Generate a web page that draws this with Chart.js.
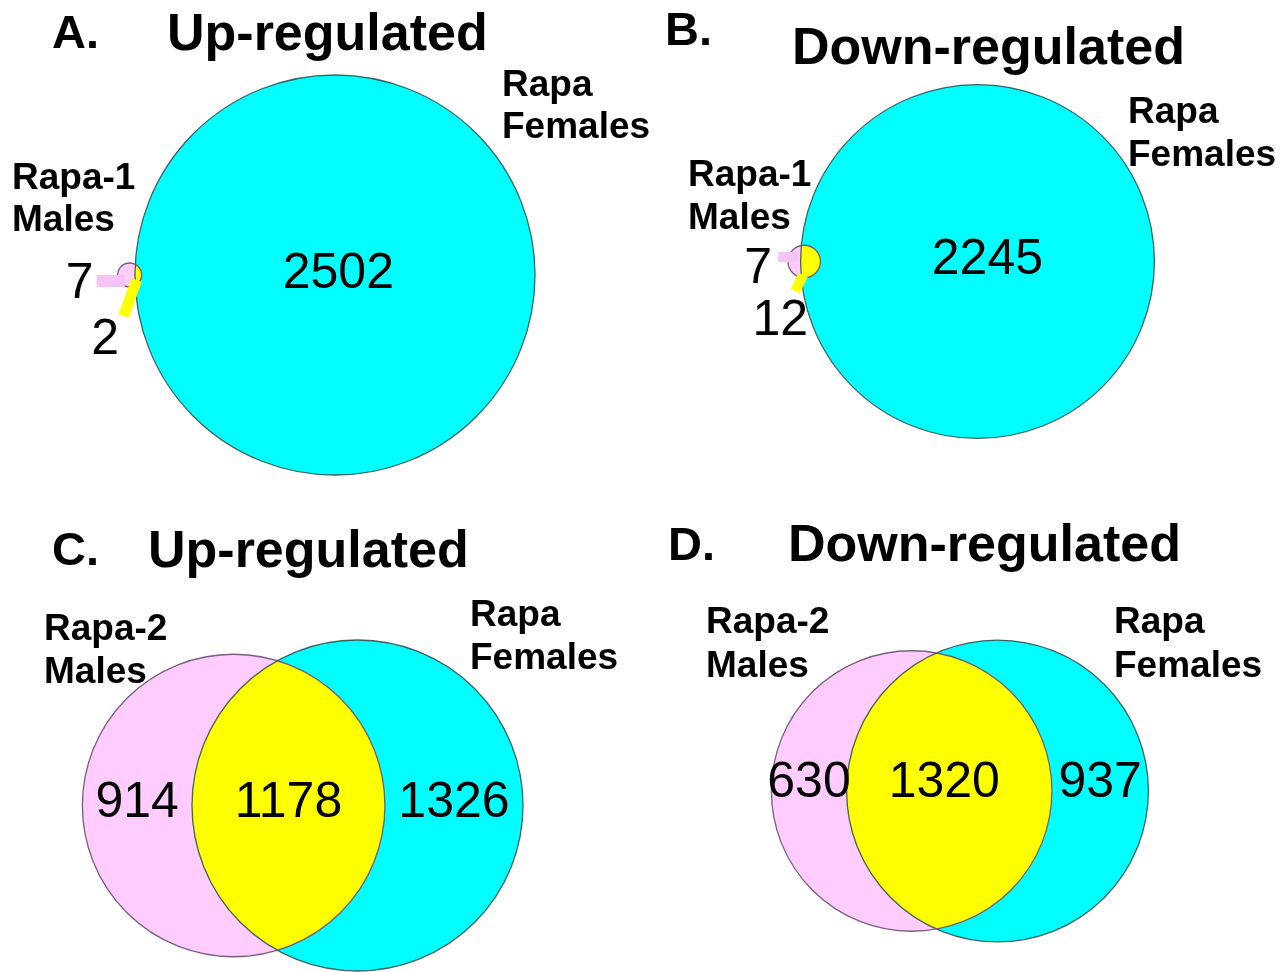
<!DOCTYPE html>
<html>
<head>
<meta charset="utf-8">
<script src="https://cdn.jsdelivr.net/npm/chart.js@4.4.1/dist/chart.umd.min.js"></script>
<style>
  html, body { margin: 0; padding: 0; background: #ffffff; }
  #page { position: relative; width: 1288px; height: 972px; overflow: hidden; background: #ffffff; }
  #page canvas { position: absolute; left: 0; top: 0; }
</style>
</head>
<body>
<div id="page">
  <canvas id="pA" width="1288" height="972"></canvas>
  <canvas id="pB" width="1288" height="972"></canvas>
  <canvas id="pC" width="1288" height="972"></canvas>
  <canvas id="pD" width="1288" height="972"></canvas>
</div>
<script>
// ---- Panel text ----
const panelLetters = ['A.', 'B.', 'C.', 'D.'];
const panelTitles = ['Up-regulated', 'Down-regulated', 'Up-regulated', 'Down-regulated'];
const maleSetNames = [['Rapa-1', 'Males'], ['Rapa-1', 'Males'], ['Rapa-2', 'Males'], ['Rapa-2', 'Males']];
const femaleSetNames = [['Rapa', 'Females'], ['Rapa', 'Females'], ['Rapa', 'Females'], ['Rapa', 'Females']];

// ---- Gene counts per Venn region ----
const malesOnly   = [7, 7, 914, 630];
const sharedGenes = [2, 12, 1178, 1320];
const femalesOnly = [2502, 2245, 1326, 937];

// ---- Layout (page pixels) ----
// cx/cy: centre of the females circle, k: pixels per unit of sqrt(area)
const panels = [
  { id: 'pA', cx: 335, cy: 275, k: 7.085, numLift: 5,
    letter: [52, 48], title: [167, 50], maleName: [12, 189], femaleName: [502, 96], gap: 42,
    leader: { pink: [[-5, 6], [-33, 6]], pinkW: 12, yellow: [[7, 5], [-6, 41]], yellowW: 11,
              onlyM: [-50, 5], both: [-24.5, 61] } },
  { id: 'pB', cx: 977.5, cy: 261.5, k: 6.60, numLift: 5,
    letter: [665, 45], title: [792, 64], maleName: [688, 186], femaleName: [1128, 123], gap: 43,
    leader: { pink: [[-5, -4.5], [-26, -4.5]], pinkW: 10, yellow: [[-1, 13.5], [-9, 29.5]], yellowW: 10,
              onlyM: [-46, 3.5], both: [-24, 55.5] } },
  { id: 'pC', cx: 357.5, cy: 805.5, k: 5.862, numLift: 6,
    letter: [52, 565], title: [148, 567], maleName: [44, 640], femaleName: [470, 626], gap: 43 },
  { id: 'pD', cx: 997.5, cy: 791, k: 5.63, numLift: 11.5, sharedDx: -5,
    letter: [668, 560], title: [788, 561], maleName: [706, 633], femaleName: [1114, 633], gap: 44 }
];

const COLORS = {
  males: '#FFCCFF', females: '#00FFFF', shared: '#FFFF00',
  malesEdge: 'rgba(105,80,110,0.9)', femalesEdge: 'rgba(55,80,80,0.9)',
  pinkLeader: '#F6C3F6', text: '#000000'
};
const FAMILY = '"Liberation Sans", Arial, Helvetica, sans-serif';

// Lens area of two circles with radii r1, r2 at centre distance d
function lensArea(r1, r2, d) {
  if (d >= r1 + r2) return 0;
  if (d <= Math.abs(r1 - r2)) return Math.PI * Math.min(r1, r2) ** 2;
  const a1 = r1 * r1 * Math.acos((d * d + r1 * r1 - r2 * r2) / (2 * d * r1));
  const a2 = r2 * r2 * Math.acos((d * d + r2 * r2 - r1 * r1) / (2 * d * r2));
  const t = 0.5 * Math.sqrt((-d + r1 + r2) * (d + r1 - r2) * (d - r1 + r2) * (d + r1 + r2));
  return a1 + a2 - t;
}
// Centre distance giving the requested overlap area (bisection)
function solveDistance(r1, r2, area) {
  let lo = Math.abs(r1 - r2), hi = r1 + r2;
  for (let i = 0; i < 80; i++) {
    const mid = (lo + hi) / 2;
    if (lensArea(r1, r2, mid) > area) lo = mid; else hi = mid;
  }
  return (lo + hi) / 2;
}

const vennPlugin = {
  id: 'venn',
  afterDatasetsDraw(chart) {
    const ctx = chart.ctx;
    const xs = chart.scales.x, ys = chart.scales.y;
    const meta = chart.options.plugins.venn;
    const p = meta.panel;
    const ds = chart.data.datasets[0];
    const circles = ds.data.map((pt, i) => {
      const px = xs.getPixelForValue(pt.x), py = ys.getPixelForValue(pt.y);
      const r = ds.radii[i];
      return { px, py,
        rx: xs.getPixelForValue(pt.x + r) - px,
        ry: py - ys.getPixelForValue(pt.y + r) };
    });
    const [m, f] = circles;
    const path = c => { ctx.beginPath(); ctx.ellipse(c.px, c.py, c.rx, c.ry, 0, 0, Math.PI * 2); };

    ctx.save();
    // filled sets
    path(f); ctx.fillStyle = COLORS.females; ctx.fill();
    path(m); ctx.fillStyle = COLORS.males; ctx.fill();
    // shared region
    ctx.save(); path(m); ctx.clip(); path(f); ctx.fillStyle = COLORS.shared; ctx.fill(); ctx.restore();
    // outlines
    ctx.lineWidth = 1.3;
    path(f); ctx.strokeStyle = COLORS.femalesEdge; ctx.stroke();
    path(m); ctx.strokeStyle = COLORS.malesEdge; ctx.stroke();

    const drawNum = (txt, x, y) => {
      ctx.font = '50px ' + FAMILY; ctx.fillStyle = COLORS.text;
      ctx.textAlign = 'center'; ctx.textBaseline = 'alphabetic';
      ctx.fillText(txt, x, y + 0.358 * 50);
    };
    const labels = meta.labels;
    const ny = m.py - p.numLift;

    if (p.leader) {
      const L = p.leader;
      const seg = (pts, w, col) => {
        ctx.beginPath();
        ctx.moveTo(m.px + pts[0][0], m.py + pts[0][1]);
        ctx.lineTo(m.px + pts[1][0], m.py + pts[1][1]);
        ctx.lineWidth = w; ctx.strokeStyle = col; ctx.lineCap = 'butt'; ctx.stroke();
      };
      seg(L.pink, L.pinkW, COLORS.pinkLeader);
      seg(L.yellow, L.yellowW, COLORS.shared);
      drawNum(labels.onlyM, m.px + L.onlyM[0], m.py + L.onlyM[1]);
      drawNum(labels.both, m.px + L.both[0], m.py + L.both[1]);
      const mRight = m.px + m.rx, fRight = f.px + f.rx;
      drawNum(labels.onlyF, (mRight + fRight) / 2, ny);
    } else {
      const mL = m.px - m.rx, mR = m.px + m.rx, fL = f.px - f.rx, fR = f.px + f.rx;
      drawNum(labels.onlyM, (mL + fL) / 2, ny);
      drawNum(labels.both, (fL + mR) / 2 + (p.sharedDx || 0), ny);
      drawNum(labels.onlyF, (mR + fR) / 2, ny);
    }

    // headings and set names
    ctx.fillStyle = COLORS.text; ctx.textAlign = 'left'; ctx.textBaseline = 'alphabetic';
    ctx.font = 'bold 47px ' + FAMILY;
    ctx.fillText(meta.letter, p.letter[0], p.letter[1]);
    ctx.font = 'bold 52px ' + FAMILY;
    ctx.fillText(meta.title, p.title[0], p.title[1]);
    ctx.font = 'bold 37px ' + FAMILY;
    meta.maleName.forEach((s, i) => ctx.fillText(s, p.maleName[0], p.maleName[1] + i * p.gap));
    meta.femaleName.forEach((s, i) => ctx.fillText(s, p.femaleName[0], p.femaleName[1] + i * p.gap));
    ctx.restore();
  }
};

panels.forEach((p, i) => {
  const mTotal = malesOnly[i] + sharedGenes[i];
  const fTotal = femalesOnly[i] + sharedGenes[i];
  // radii in units where circle area equals the gene count
  const rM = Math.sqrt(mTotal / Math.PI);
  const rF = Math.sqrt(fTotal / Math.PI);
  const d = solveDistance(rM, rF, sharedGenes[i]);

  const W = 1288, H = 972;
  new Chart(document.getElementById(p.id), {
    type: 'scatter',
    data: {
      datasets: [{
        label: maleSetNames[i].join(' ') + ' / ' + femaleSetNames[i].join(' '),
        data: [{ x: -d, y: 0 }, { x: 0, y: 0 }],
        radii: [rM, rF],
        pointRadius: 0, pointHoverRadius: 0
      }]
    },
    options: {
      responsive: false, animation: false, devicePixelRatio: 1,
      layout: { padding: 0 },
      events: [],
      scales: {
        x: { type: 'linear', display: false, min: -p.cx / p.k, max: (W - p.cx) / p.k },
        y: { type: 'linear', display: false, min: -(H - p.cy) / p.k, max: p.cy / p.k }
      },
      plugins: {
        legend: { display: false }, tooltip: { enabled: false }, title: { display: false },
        venn: {
          panel: p, letter: panelLetters[i], title: panelTitles[i],
          maleName: maleSetNames[i], femaleName: femaleSetNames[i],
          labels: { onlyM: String(malesOnly[i]), both: String(sharedGenes[i]), onlyF: String(femalesOnly[i]) }
        }
      }
    },
    plugins: [vennPlugin]
  });
});
</script>
</body>
</html>
